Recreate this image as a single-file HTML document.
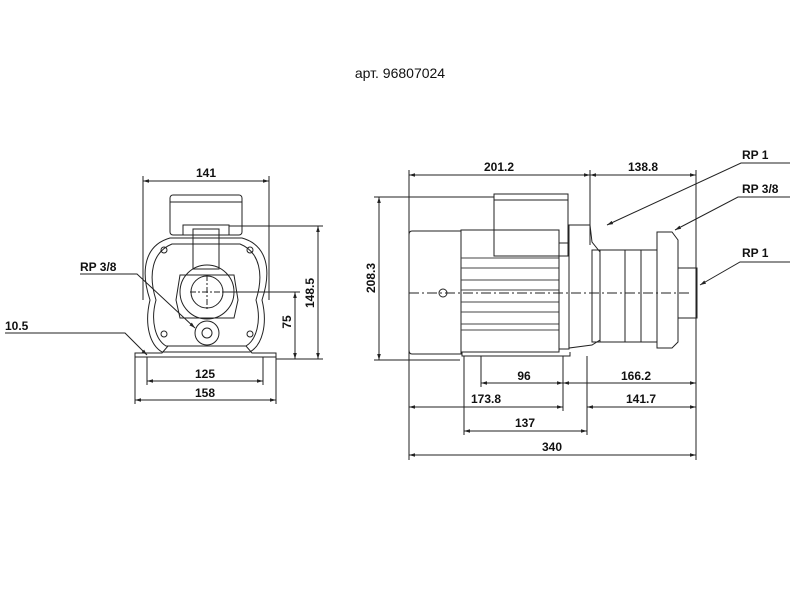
<!DOCTYPE html>
<html><head><meta charset="utf-8"><style>
html,body{margin:0;padding:0;background:#fff;width:800px;height:600px;overflow:hidden}
svg{display:block}
text{font-family:"Liberation Sans",sans-serif;font-size:12px;fill:#111;font-weight:bold}
text.t{font-weight:normal;font-size:14px}
</style></head><body>
<svg width="800" height="600" viewBox="0 0 800 600" xmlns="http://www.w3.org/2000/svg">
<defs>
<marker id="a" viewBox="0 0 10 10" refX="10" refY="5" markerWidth="6" markerHeight="6" orient="auto-start-reverse"><path d="M0,2 L10,5 L0,8z" fill="#222"/></marker>
</defs>
<text class="t" x="400" y="78" text-anchor="middle">арт. 96807024</text>

<g stroke="#222" stroke-width="1" fill="none">
<!-- LEFT VIEW -->
<line x1="143" y1="176" x2="143" y2="300"/>
<line x1="269" y1="176" x2="269" y2="300"/>
<line x1="143" y1="181" x2="269" y2="181" marker-start="url(#a)" marker-end="url(#a)"/>
<rect x="170" y="195" width="72" height="40" rx="3"/>
<line x1="170" y1="202" x2="242" y2="202"/>
<path d="M183,235 L183,225 L229,225 L229,235"/>
<line x1="229" y1="226" x2="323" y2="226"/>
<path d="M150,300 C140,270 145,245 170,238 L242,238 C267,245 272,270 262,300 C268,325 262,345 250,352 L162,352 C150,345 144,325 150,300Z"/>
<path d="M156,300 C148,275 152,252 172,244 L240,244 C260,252 264,275 256,300 C262,322 256,340 246,346 L166,346 C156,340 150,322 156,300Z"/>
<rect x="193" y="229" width="26" height="40"/>
<path d="M180,275 L234,275 L238,300 L234,318 L180,318 L176,300Z"/>
<circle cx="207" cy="292" r="27"/>
<circle cx="207" cy="292" r="16"/>
<line x1="190" y1="292" x2="224" y2="292" stroke-dasharray="6,2,2,2"/>
<line x1="207" y1="275" x2="207" y2="309" stroke-dasharray="6,2,2,2"/>
<line x1="224" y1="292" x2="300" y2="292"/>
<circle cx="207" cy="333" r="12"/>
<circle cx="207" cy="333" r="5"/>
<circle cx="164" cy="250" r="3"/><circle cx="250" cy="250" r="3"/>
<circle cx="164" cy="334" r="3"/><circle cx="250" cy="334" r="3"/>
<path d="M135,353 L162,353 L168,346 L246,346 L252,353 L276,353 L276,357 L135,357Z"/>
<line x1="276" y1="359" x2="323" y2="359"/>
<line x1="318" y1="226" x2="318" y2="359" marker-start="url(#a)" marker-end="url(#a)"/>
<line x1="295" y1="292" x2="295" y2="359" marker-start="url(#a)" marker-end="url(#a)"/>
<line x1="147" y1="357" x2="147" y2="385"/>
<line x1="263" y1="357" x2="263" y2="385"/>
<line x1="147" y1="381" x2="263" y2="381" marker-start="url(#a)" marker-end="url(#a)"/>
<line x1="135" y1="357" x2="135" y2="404"/>
<line x1="276" y1="357" x2="276" y2="404"/>
<line x1="135" y1="400" x2="276" y2="400" marker-start="url(#a)" marker-end="url(#a)"/>
<path d="M80,274 L137,274 L195,328" marker-end="url(#a)"/>
<path d="M5,333 L125,333 L147,355" marker-end="url(#a)"/>

<!-- RIGHT VIEW -->
<line x1="409" y1="170" x2="409" y2="460"/>
<line x1="696" y1="170" x2="696" y2="460"/>
<line x1="590" y1="170" x2="590" y2="245"/>
<line x1="409" y1="175" x2="590" y2="175" marker-start="url(#a)" marker-end="url(#a)"/>
<line x1="590" y1="175" x2="696" y2="175" marker-start="url(#a)" marker-end="url(#a)"/>
<line x1="374" y1="197" x2="494" y2="197"/>
<line x1="374" y1="360" x2="460" y2="360"/>
<line x1="379" y1="197" x2="379" y2="360" marker-start="url(#a)" marker-end="url(#a)"/>
<path d="M412,231 L461,231 L461,354 L412,354 Q409,354 409,350 L409,235 Q409,231 412,231Z"/>
<rect x="461" y="230" width="98" height="122"/>
<rect x="494" y="194" width="74" height="62"/>
<line x1="494" y1="200" x2="568" y2="200"/>
<g stroke="#444">
<line x1="461" y1="258" x2="559" y2="258"/><line x1="461" y1="268" x2="559" y2="268"/>
<line x1="461" y1="280" x2="559" y2="280"/><line x1="461" y1="290" x2="559" y2="290"/>
<line x1="461" y1="302" x2="559" y2="302"/><line x1="461" y1="312" x2="559" y2="312"/>
<line x1="461" y1="324" x2="559" y2="324"/><line x1="461" y1="330" x2="559" y2="330"/>
</g>
<rect x="559" y="243" width="10" height="106"/>
<path d="M569,225 L590,225 L592,242 L600,252 L600,340 L592,345 L569,348Z"/>
<rect x="592" y="250" width="65" height="92"/>
<line x1="600" y1="250" x2="600" y2="342"/>
<line x1="625" y1="250" x2="625" y2="342"/>
<line x1="641" y1="250" x2="641" y2="342"/>
<path d="M657,232 L672,232 L678,240 L678,342 L672,348 L657,348Z"/>
<rect x="678" y="268" width="19" height="50"/>
<line x1="409" y1="293" x2="690" y2="293" stroke-dasharray="10,3,2,3"/>
<circle cx="443" cy="293" r="4"/>
<path d="M462,352 L462,356 L570,356 L570,352"/>
<line x1="481" y1="356" x2="481" y2="387"/>
<line x1="563" y1="356" x2="563" y2="411"/>
<line x1="587" y1="356" x2="587" y2="435"/>
<line x1="464" y1="356" x2="464" y2="435"/>
<line x1="481" y1="383" x2="563" y2="383" marker-start="url(#a)" marker-end="url(#a)"/>
<line x1="563" y1="383" x2="696" y2="383" marker-start="url(#a)" marker-end="url(#a)"/>
<line x1="409" y1="407" x2="563" y2="407" marker-start="url(#a)" marker-end="url(#a)"/>
<line x1="587" y1="407" x2="696" y2="407" marker-start="url(#a)" marker-end="url(#a)"/>
<line x1="464" y1="431" x2="587" y2="431" marker-start="url(#a)" marker-end="url(#a)"/>
<line x1="409" y1="455" x2="696" y2="455" marker-start="url(#a)" marker-end="url(#a)"/>
<path d="M790,163 L741,163 L607,225" marker-end="url(#a)"/>
<path d="M790,197 L738,197 L675,230" marker-end="url(#a)"/>
<path d="M790,262 L740,262 L700,285" marker-end="url(#a)"/>
</g>

<text x="206" y="177" text-anchor="middle">141</text>
<text x="80" y="271">RP 3/8</text>
<text x="5" y="330">10.5</text>
<text x="205" y="378" text-anchor="middle">125</text>
<text x="205" y="397" text-anchor="middle">158</text>
<text transform="translate(314,293) rotate(-90)" text-anchor="middle">148.5</text>
<text transform="translate(291,322) rotate(-90)" text-anchor="middle">75</text>

<text transform="translate(375,278) rotate(-90)" text-anchor="middle">208.3</text>
<text x="499" y="171" text-anchor="middle">201.2</text>
<text x="643" y="171" text-anchor="middle">138.8</text>
<text x="742" y="159">RP 1</text>
<text x="742" y="193">RP 3/8</text>
<text x="742" y="257">RP 1</text>
<text x="524" y="380" text-anchor="middle">96</text>
<text x="636" y="380" text-anchor="middle">166.2</text>
<text x="486" y="403" text-anchor="middle">173.8</text>
<text x="641" y="403" text-anchor="middle">141.7</text>
<text x="525" y="427" text-anchor="middle">137</text>
<text x="552" y="451" text-anchor="middle">340</text>
</svg>
</body></html>
